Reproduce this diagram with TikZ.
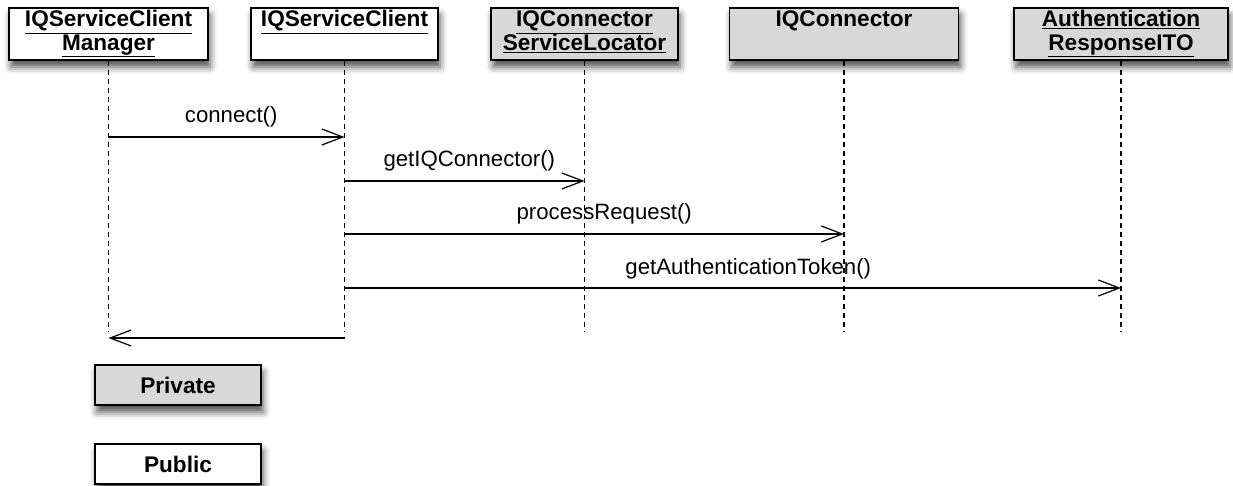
\documentclass[tikz,border=0pt]{standalone}
\usepackage{fontspec}
\setmainfont{Liberation Sans}
\usepackage{tikz}
\usetikzlibrary{arrows.meta,shadows.blur}
\definecolor{objgray}{RGB}{216,216,216}

\begin{document}
\begin{tikzpicture}
  [x=1pt,y=-1pt,line width=1.2pt,every node/.style={inner sep=0pt},
   font=\fontsize{22.2}{24}\selectfont]

  \tikzstyle{object}   = [draw, line width=1.5pt, minimum height=52pt, inner ysep=2pt,
                          align=center, font=\fontsize{22.6}{23.5}\selectfont\bfseries,
                          blur shadow={shadow xshift=2pt, shadow yshift=-7pt,
                                       shadow blur radius=7pt, shadow opacity=70}]
  \tikzstyle{public}   = [object, fill=white]
  \tikzstyle{private}  = [object, fill=objgray]
  \tikzstyle{lifeline} = [line width=1.1pt, dash pattern=on 5pt off 4pt]
  \tikzstyle{call}     = [-{Straight Barb[length=21pt,width=16pt]}]

  \useasboundingbox (0,0) rectangle (1233,486);

  \node[public,  minimum width=199pt] (mgr)     at (108.5,34) {\underline{IQServiceClient}\strut\\\underline{Manager}\strut};
  \node[public,  minimum width=187pt] (client)  at (344.5,34) {\underline{IQServiceClient}\strut\\\strut};
  \node[private, minimum width=187pt] (locator) at (584.5,34) {\underline{IQConnector}\strut\\\underline{ServiceLocator}\strut};
  \node[private, minimum width=229pt] (conn)    at (844,34)   {IQConnector\strut\\\strut};
  \node[private, minimum width=214pt] (authto)  at (1121,34)  {\underline{Authentication}\strut\\\underline{ResponseITO}\strut};

  \coordinate (bottom) at (0,332);
  \coordinate (m1) at (0,137);
  \coordinate (m2) at (0,181);
  \coordinate (m3) at (0,234);
  \coordinate (m4) at (0,288);
  \coordinate (m5) at (0,338);

  \path[lifeline]
        (mgr)     edge (mgr |- bottom)
        (client)  edge (client |- bottom)
        (locator) edge (locator |- bottom)
        (conn)    edge (conn |- bottom)
        (authto)  edge (authto |- bottom);

  \path[call]
        (mgr |- m1)    edge node[above=9pt,pos=.52] {connect()} (client |- m1)
        (client |- m2) edge node[above=9pt,pos=.52] {getIQConnector()} (locator |- m2)
        (client |- m3) edge node[above=9pt,pos=.52] {processRequest()} (conn |- m3)
        (client |- m4) edge node[above=8pt,pos=.52] {getAuthenticationToken()} (authto |- m4)
        (client |- m5) edge (mgr |- m5);

  \node[private, minimum width=166pt, minimum height=40pt] (priv) at (178,385) {Private};
  \node[public,  minimum width=166pt, minimum height=40pt] (pub)  at (178,464) {Public};
\end{tikzpicture}
\end{document}
